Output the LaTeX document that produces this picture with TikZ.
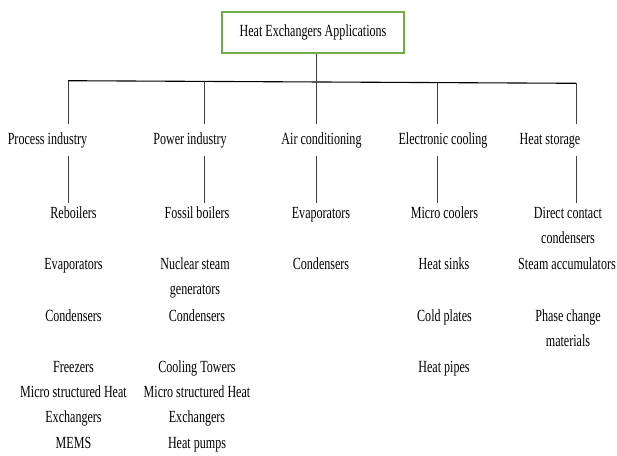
\documentclass[tikz,border=0pt]{standalone}
\usepackage{fontspec}
\setmainfont{Liberation Serif}[FakeStretch=0.71]
\definecolor{boxgreen}{HTML}{70AD47}
\newcommand\ml[1]{\begin{tabular}[t]{@{}c@{}}#1\end{tabular}}
\begin{document}
\begin{tikzpicture}[x=1pt,y=-1pt,
  lbl/.style={anchor=base, inner xsep=0pt, text height=12pt, text depth=4pt,
    font=\fontsize{17pt}{25pt}\selectfont},
  cat/.style={lbl, inner ysep=8pt},
  item/.style={lbl, inner ysep=3pt},
  topbox/.style={draw=boxgreen, line width=1.4pt, minimum width=182pt, minimum height=41pt,
    inner sep=0pt, font=\fontsize{17pt}{25pt}\selectfont},
  bar/.style={draw=black, line width=1.1pt},
  conn/.style={draw=black!75, line width=0.9pt}]
\useasboundingbox (0,0) rectangle (617,455);

% top node
\node[topbox] (top) at (313,32.5) {Heat Exchangers Applications};

% bar coordinates
\coordinate (bP) at (68,80.7);
\coordinate (bW) at (204,81.4);
\coordinate (bA) at (316.5,82.0);
\coordinate (bE) at (437,82.6);
\coordinate (bH) at (576,83.3);

% categories
\node[cat] (pi) at (47.5,144) {Process industry};
\node[cat] (pw) at (190,144) {Power industry};
\node[cat] (ac) at (321.5,144) {Air conditioning};
\node[cat] (ec) at (443,144) {Electronic cooling};
\node[cat] (hs) at (550,144) {Heat storage};

% process industry items
\node[item] (p1) at (73.5,218) {Reboilers};
\node[item] (p2) at (73.5,269) {Evaporators};
\node[item] (p3) at (73.5,321) {Condensers};
\node[item] (p4) at (73.5,372) {Freezers};
\node[item] (p5) at (73.5,397) {\ml{Micro structured Heat\\Exchangers}};
\node[item] (p6) at (73.5,448) {MEMS};

% power industry items
\node[item] (w1) at (197,218) {Fossil boilers};
\node[item] (w2) at (195,269) {\ml{Nuclear steam\\generators}};
\node[item] (w3) at (197,321) {Condensers};
\node[item] (w4) at (197,372) {Cooling Towers};
\node[item] (w5) at (197,397) {\ml{Micro structured Heat\\Exchangers}};
\node[item] (w6) at (197,448) {Heat pumps};

% air conditioning items
\node[item] (a1) at (321,218) {Evaporators};
\node[item] (a2) at (321,269) {Condensers};

% electronic cooling items
\node[item] (e1) at (444.5,218) {Micro coolers};
\node[item] (e2) at (444,269) {Heat sinks};
\node[item] (e3) at (444.5,321) {Cold plates};
\node[item] (e4) at (444,372) {Heat pipes};

% heat storage items
\node[item] (h1) at (568,218) {\ml{Direct contact\\condensers}};
\node[item] (h2) at (567,269) {Steam accumulators};
\node[item] (h3) at (568,321) {\ml{Phase change\\materials}};

% connectors
\draw[bar] (bP) -- (bH);
\draw[conn] (top.south -| bA) -- (bA |- ac.north);
\draw[conn] (bP) -- (bP |- pi.north);
\draw[conn] (bW) -- (bW |- pw.north);
\draw[conn] (bE) -- (bE |- ec.north);
\draw[conn] (bH) -- (bH |- hs.north);

\draw[conn] (bP |- pi.south) -- (bP |- p1.north);
\draw[conn] (bW |- pw.south) -- (bW |- w1.north);
\draw[conn] (bA |- ac.south) -- (bA |- a1.north);
\draw[conn] (bE |- ec.south) -- (bE |- e1.north);
\draw[conn] (bH |- hs.south) -- (bH |- h1.north);
\end{tikzpicture}
\end{document}
